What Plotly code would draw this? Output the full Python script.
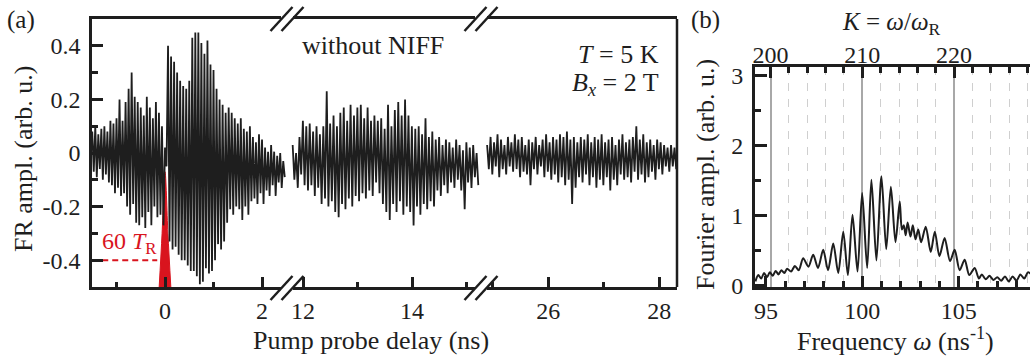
import numpy as np
import plotly.graph_objects as go

# ---------------- Panel (a): Faraday rotation vs pump-probe delay ----------------
# Alternating maxima / minima of the fast oscillation, one pair per period, in three delay windows
dt = 0.0625                       # sampling period of the max/min pairs (ns)
seg_start = [-1.5, 11.81, 24.90]  # first sample of each delay window (ns)

seg1_max = [0.08, 0.10, 0.07, 0.09, 0.10, 0.08, 0.12, 0.11, 0.13, 0.20, 0.12, 0.19, 0.24, 0.30,
            0.21, 0.19, 0.17, 0.14, 0.21, 0.17, 0.13, 0.19, 0.15, 0.10, 0.02, 0.40, 0.36, 0.34,
            0.30, 0.27, 0.25, 0.24, 0.27, 0.43, 0.45, 0.45, 0.41, 0.37, 0.42, 0.33, 0.31, 0.24,
            0.20, 0.18, 0.15, 0.17, 0.15, 0.13, 0.11, 0.13, 0.09, 0.08, 0.10, 0.06, 0.04, 0.07,
            0.05, 0.02, 0.005, 0.03, 0.005, -0.01, 0.00, -0.03]
seg1_min = [-0.07, -0.09, -0.06, -0.10, -0.08, -0.11, -0.12, -0.15, -0.13, -0.16, -0.15, -0.20,
            -0.23, -0.19, -0.26, -0.27, -0.24, -0.28, -0.22, -0.27, -0.20, -0.24, -0.23, -0.27,
            -0.05, -0.33, -0.36, -0.35, -0.38, -0.40, -0.40, -0.42, -0.44, -0.44, -0.46, -0.49,
            -0.48, -0.43, -0.45, -0.44, -0.40, -0.34, -0.36, -0.33, -0.26, -0.21, -0.23, -0.20,
            -0.21, -0.25, -0.20, -0.23, -0.18, -0.17, -0.19, -0.15, -0.19, -0.14, -0.16, -0.12,
            -0.16, -0.11, -0.13, -0.09]

seg2_max = [0.03, 0.00, 0.06, 0.12, 0.10, 0.11, 0.08, 0.10, 0.07, 0.10, 0.23, 0.11, 0.14, 0.10,
            0.15, 0.17, 0.12, 0.18, 0.14, 0.17, 0.18, 0.13, 0.17, 0.12, 0.14, 0.12, 0.13, 0.09,
            0.18, 0.10, 0.16, 0.19, 0.14, 0.20, 0.14, 0.10, 0.09, 0.10, 0.07, 0.13, 0.06, 0.08,
            0.05, 0.06, 0.03, 0.05, 0.04, 0.02, 0.05, 0.03, 0.01, 0.04, 0.02, 0.03, 0.00]
seg2_min = [-0.10, -0.13, -0.08, -0.12, -0.14, -0.12, -0.16, -0.13, -0.19, -0.17, -0.20, -0.18,
            -0.22, -0.24, -0.19, -0.21, -0.17, -0.20, -0.16, -0.18, -0.15, -0.17, -0.14, -0.16,
            -0.11, -0.15, -0.19, -0.22, -0.25, -0.19, -0.22, -0.18, -0.23, -0.20, -0.22, -0.27,
            -0.20, -0.23, -0.19, -0.21, -0.18, -0.20, -0.14, -0.16, -0.12, -0.15, -0.11, -0.13,
            -0.10, -0.14, -0.21, -0.11, -0.13, -0.09, -0.12]

seg3_max = [0.03, 0.06, 0.04, 0.07, 0.05, 0.03, 0.06, 0.04, 0.07, 0.05, 0.06, 0.03, 0.05, 0.04,
            0.06, 0.03, 0.05, 0.07, 0.04, 0.06, 0.05, 0.07, 0.06, 0.08, 0.05, 0.06, 0.04, 0.06,
            0.05, 0.07, 0.04, 0.06, 0.05, 0.07, 0.04, 0.05, 0.06, 0.03, 0.05, 0.07, 0.04, 0.05,
            0.06, 0.10, 0.05, 0.07, 0.04, 0.05, 0.03, 0.05, 0.04, 0.03, 0.02, 0.03, 0.02]
seg3_min = [-0.06, -0.08, -0.05, -0.09, -0.06, -0.08, -0.05, -0.07, -0.06, -0.09, -0.07, -0.08,
            -0.12, -0.06, -0.08, -0.05, -0.09, -0.07, -0.10, -0.08, -0.11, -0.09, -0.12, -0.10,
            -0.19, -0.13, -0.09, -0.11, -0.08, -0.12, -0.09, -0.13, -0.10, -0.12, -0.09, -0.14,
            -0.10, -0.12, -0.08, -0.10, -0.09, -0.11, -0.07, -0.10, -0.08, -0.11, -0.09, -0.07,
            -0.10, -0.06, -0.08, -0.05, -0.07, -0.05, -0.06]

# pump pulse train marker (60 T_R) near zero delay
pulse_t = [-0.12, -0.06, 0.0, 0.06, 0.12]
pulse_v = [-0.5, -0.30, -0.07, -0.30, -0.5]
marker_level = -0.4

# ---------------- Panel (b): Fourier spectrum ----------------
omega = [94.45, 94.6, 94.75, 94.9, 95.05, 95.2, 95.35, 95.5, 95.65, 95.8, 95.95, 96.1, 96.3, 96.5,
         96.7, 96.93, 97.2, 97.45, 97.7, 97.97, 98.22, 98.49, 98.75, 99.01, 99.25, 99.49, 99.75,
         99.99, 100.25, 100.47, 100.73, 100.99, 101.24, 101.48, 101.72, 101.94, 102.05, 102.15,
         102.25, 102.35, 102.5, 102.62, 102.76, 102.9, 103.05, 103.29, 103.55, 103.76, 104.0,
         104.27, 104.55, 104.79, 105.05, 105.31, 105.55, 105.83, 106.05, 106.2, 106.4, 106.6,
         106.8, 107.0, 107.2, 107.4, 107.6, 107.8, 108.0, 108.2, 108.4, 108.6, 108.8]
fourier = [0.06, 0.15, 0.10, 0.18, 0.12, 0.19, 0.14, 0.21, 0.16, 0.22, 0.18, 0.24, 0.20, 0.28,
           0.22, 0.39, 0.27, 0.44, 0.25, 0.51, 0.22, 0.60, 0.18, 0.77, 0.15, 1.01, 0.20,
           1.32, 0.25, 1.51, 0.36, 1.56, 0.52, 1.41, 0.62, 1.20, 0.80, 0.86,
           0.72, 0.90, 0.70, 0.86, 0.66, 0.80, 0.62, 0.84, 0.48, 0.77, 0.42,
           0.68, 0.35, 0.51, 0.22, 0.37, 0.15, 0.25, 0.10, 0.16, 0.09, 0.14,
           0.08, 0.12, 0.07, 0.13, 0.06, 0.13, 0.07, 0.16, 0.10, 0.19, 0.15]
omega_R = 100.0 / 210.0   # K = omega / omega_R

W, H = 1030, 358
FONT = "Liberation Serif"
INK = "#1e1e1e"
RED = "#d9141e"


def px(x):
    return x / W


def py(y):
    return 1 - y / H


def zigzag(t0, vmax, vmin):
    t, v = [], []
    for i, (a, b) in enumerate(zip(vmax, vmin)):
        t += [t0 + i * dt, t0 + (i + 0.5) * dt]
        v += [a, b]
    return t, v


fig = go.Figure()

# red pulse marker under the trace
fig.add_trace(go.Scatter(x=pulse_t, y=pulse_v, fill="toself", fillcolor=RED, mode="lines",
                         line=dict(color=RED, width=1, shape="spline"), xaxis="x", yaxis="y",
                         hoverinfo="skip"))
fig.add_trace(go.Scatter(x=[-1.5, -0.16], y=[marker_level, marker_level], mode="lines",
                         line=dict(color=RED, width=2, dash="6px,4px"), xaxis="x", yaxis="y"))

for k, (vmax, vmin, xa) in enumerate([(seg1_max, seg1_min, "x"), (seg2_max, seg2_min, "x2"),
                                      (seg3_max, seg3_min, "x3")]):
    t, v = zigzag(seg_start[k], vmax, vmin)
    fig.add_trace(go.Scatter(x=t, y=v, mode="lines", line=dict(color=INK, width=1.8),
                             xaxis=xa, yaxis="y"))

fig.add_trace(go.Scatter(x=omega, y=fourier, mode="lines",
                         line=dict(color=INK, width=2, shape="spline", smoothing=0.8),
                         xaxis="x4", yaxis="y2"))
# invisible trace so the top K axis is drawn
fig.add_trace(go.Scatter(x=[210], y=[-5], mode="markers", marker=dict(opacity=0),
                         xaxis="x5", yaxis="y2", hoverinfo="skip"))

tickfont = dict(family=FONT, size=24, color=INK)
common = dict(showgrid=False, zeroline=False, showline=True, linecolor=INK, ticks="inside",
              tickcolor=INK, tickfont=tickfont, automargin=False)

y_dom = [py(287), py(19)]
seg_px = [(92, 287), (287, 481), (481, 677)]
seg_ranges = [[-1.505, 2.515], [11.706, 15.266], [24.79, 28.32]]
seg_major = [[0, 2], [12, 14], [26, 28]]
seg_minor = [[-1, 1], [13, 15], [25, 27]]

layout_axes = {}
for k in range(3):
    name = "xaxis" if k == 0 else f"xaxis{k + 1}"
    layout_axes[name] = dict(
        common, domain=[px(seg_px[k][0]), px(seg_px[k][1])], range=seg_ranges[k], anchor="y",
        mirror=True, linewidth=2.5, tickvals=seg_major[k], ticktext=[str(v) for v in seg_major[k]],
        ticklen=10, tickwidth=2.5, ticklabelstandoff=0,
        minor=dict(tickvals=seg_minor[k], ticklen=5, tickwidth=2.5, ticks="inside", tickcolor=INK))

layout_axes["yaxis"] = dict(
    common, domain=y_dom, range=[-0.5, 0.5], anchor="x", linewidth=2.5,
    tickvals=[-0.4, -0.2, 0, 0.2, 0.4], ticktext=["-0.4", "-0.2", "0", "0.2", "0.4"],
    ticklen=11, tickwidth=2.5, ticklabelstandoff=4,
    minor=dict(tickvals=[-0.3, -0.1, 0.1, 0.3], ticklen=6, tickwidth=2.5, ticks="inside",
               tickcolor=INK))

om_range = [94.43, 108.7]
layout_axes["xaxis4"] = dict(
    common, domain=[px(755), 1.0], range=om_range, anchor="y2", linewidth=3,
    tickvals=[95, 100, 105], ticktext=["95", "100", "105"], ticklen=11, tickwidth=2.5,
    ticklabelstandoff=0,
    minor=dict(tickvals=[v for v in range(95, 109) if v % 5], ticklen=6, tickwidth=2.5,
               ticks="inside", tickcolor=INK))
layout_axes["xaxis5"] = dict(
    common, domain=[px(755), 1.0], range=[om_range[0] / omega_R, om_range[1] / omega_R],
    anchor="y2", overlaying="x4", side="top", linewidth=3,
    tickvals=[200, 210, 220], ticktext=["200", "210", "220"], ticklen=11, tickwidth=2.5,
    ticklabelstandoff=-9, showgrid=True, gridcolor="#a8a8a8", gridwidth=1.5,
    minor=dict(tickvals=[v for v in range(200, 230, 2) if v % 10], ticklen=6, tickwidth=2.5,
               ticks="inside", tickcolor=INK, showgrid=True, gridcolor="#cfcfcf", gridwidth=1.3,
               griddash="8px,8px"))
layout_axes["yaxis2"] = dict(
    common, domain=[py(287), py(67)], range=[-0.02, 3.12], anchor="x4", linewidth=3,
    tickvals=[0, 1, 2, 3], ticktext=["0", "1", "2", "3"], ticklen=12, tickwidth=2.5,
    ticklabelstandoff=4,
    minor=dict(tickvals=[0.5, 1.5, 2.5], ticklen=6, tickwidth=2.5, ticks="inside",
               tickcolor=INK))

shapes = [dict(type="line", xref="paper", yref="paper", x0=px(677), x1=px(677), y0=py(19),
               y1=py(287), line=dict(color=INK, width=2.5))]
# axis break marks
for cx in (287, 481):
    for cy in (19, 288):
        shapes.append(dict(type="line", xref="paper", yref="paper", x0=px(cx - 6), x1=px(cx + 6),
                           y0=py(cy), y1=py(cy), line=dict(color="white", width=6)))
        for off in (-5.5, 5.5):
            shapes.append(dict(type="line", xref="paper", yref="paper",
                               x0=px(cx + off - 11), y0=py(cy + 12),
                               x1=px(cx + off + 11), y1=py(cy - 12),
                               line=dict(color=INK, width=2.5)))


def note(text, x, y, size=26, color=INK, angle=0, xanchor="center"):
    return dict(text=text, x=px(x), y=py(y), xref="paper", yref="paper", showarrow=False,
                xanchor=xanchor, yanchor="middle", textangle=angle,
                font=dict(family=FONT, size=size, color=color))


annotations = [
    note("(a)", 21, 20, size=25),
    note("(b)", 705, 20, size=25),
    note("without NIFF", 373, 45),
    note("<i>T</i> = 5 K", 661, 54, xanchor="right"),
    note("<i>B</i><sub><i>x</i></sub> = 2 T", 661, 84, xanchor="right"),
    note("60 <i>T</i><sub>R</sub>", 129, 243, size=24, color=RED),
    note("FR ampl. (arb. u.)", 24, 159, angle=-90),
    note("Pump probe delay (ns)", 371, 340),
    note("Fourier ampl. (arb. u.)", 705, 175, angle=-90),
    note("Frequency <i>ω</i> (ns<sup>-1</sup>)", 895, 339),
    note("<i>K</i> = <i>ω</i>/<i>ω</i><sub>R</sub>", 891, 23, size=25),
]

fig.update_layout(template="none", width=W, height=H, margin=dict(l=0, r=0, t=0, b=0),
                  showlegend=False, paper_bgcolor="white", plot_bgcolor="white", shapes=shapes,
                  annotations=annotations, **layout_axes)

fig.write_html("out.html")
